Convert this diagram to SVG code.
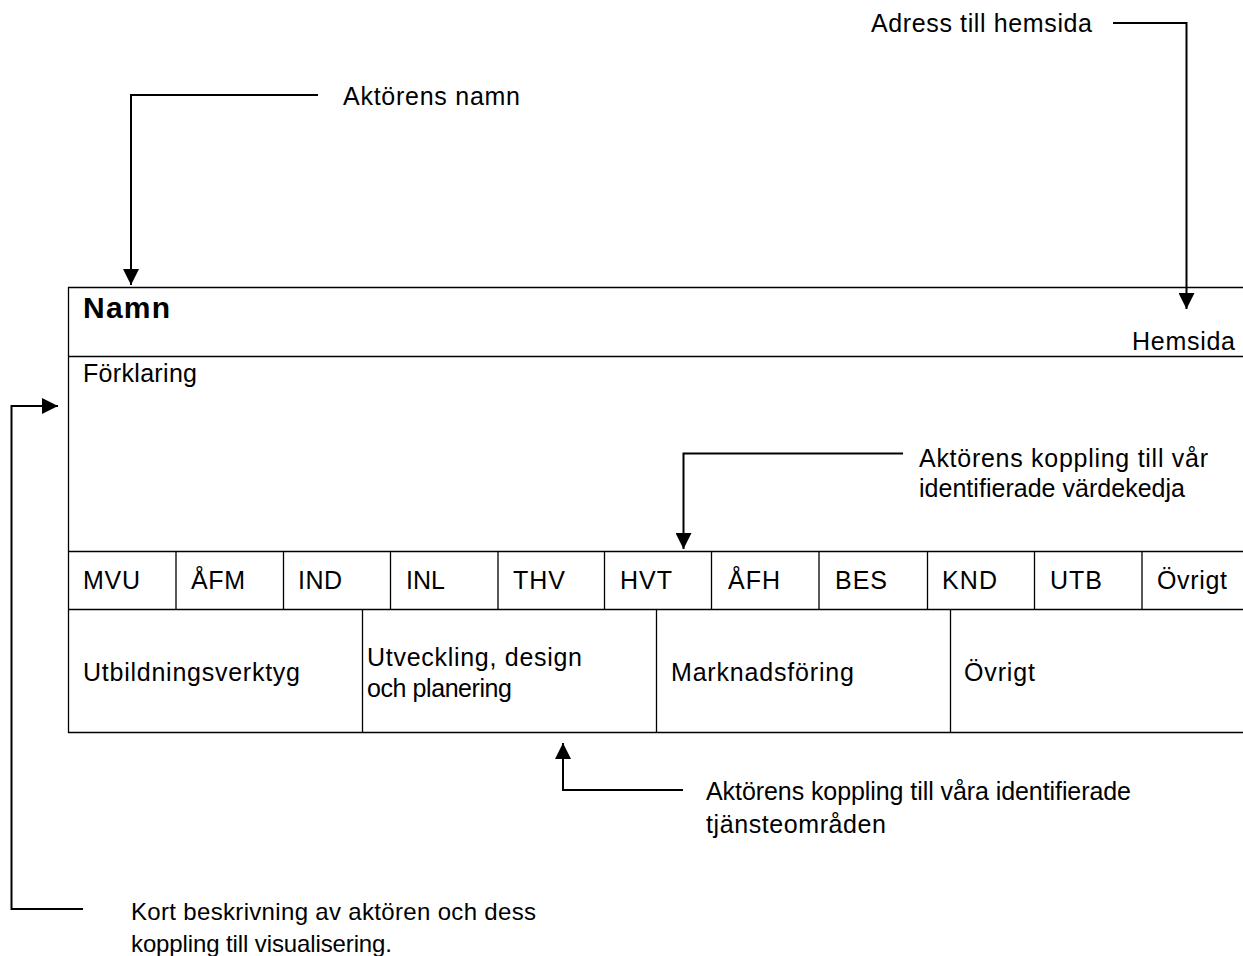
<svg xmlns="http://www.w3.org/2000/svg" width="1243" height="956" viewBox="0 0 1243 956">
  <style>
    text { font-family: "Liberation Sans", Arial, sans-serif; font-size: 25px; fill: #000; }
    .title { font-size: 30px; font-weight: bold; }
    .small { font-size: 24px; }
    .grid { stroke: #000; stroke-width: 1.3; fill: none; }
    .conn { stroke: #000; stroke-width: 2; fill: none; }
  </style>
  <defs>
    <marker id="arrow" viewBox="0 0 10 10" refX="10" refY="5" markerWidth="8" markerHeight="8" markerUnits="strokeWidth" orient="auto">
      <path d="M0,0 L10,5 L0,10 Z" fill="#000"/>
    </marker>
  </defs>

  <!-- Record card -->
  <g id="card">
    <path class="grid" d="M68,287.5 H1243 M68,356.5 H1243 M68,551.5 H1243 M68,609.5 H1243 M68,732.5 H1243 M68.5,287 V733"/>
    <text class="title" x="83" y="318" textLength="87" lengthAdjust="spacing">Namn</text>
    <text x="1235" y="350" text-anchor="end" textLength="103" lengthAdjust="spacing">Hemsida</text>
    <text x="83" y="382" textLength="114" lengthAdjust="spacing">Förklaring</text>
  </g>

  <!-- Value-chain code row -->
  <g id="codes">
    <path class="grid" d="M176,551 V609 M283.5,551 V609 M390.5,551 V609 M498,551 V609 M604.5,551 V609 M711.5,551 V609 M819,551 V609 M927.5,551 V609 M1034.5,551 V609 M1142,551 V609"/>
    <text x="83" y="589" textLength="57" lengthAdjust="spacing">MVU</text>
    <text x="191" y="589" textLength="54" lengthAdjust="spacing">ÅFM</text>
    <text x="298" y="589" textLength="44" lengthAdjust="spacing">IND</text>
    <text x="406" y="589" textLength="39" lengthAdjust="spacing">INL</text>
    <text x="513" y="589" textLength="52" lengthAdjust="spacing">THV</text>
    <text x="620" y="589" textLength="52" lengthAdjust="spacing">HVT</text>
    <text x="728" y="589" textLength="52" lengthAdjust="spacing">ÅFH</text>
    <text x="835" y="589" textLength="52" lengthAdjust="spacing">BES</text>
    <text x="942" y="589" textLength="55" lengthAdjust="spacing">KND</text>
    <text x="1050" y="589" textLength="52" lengthAdjust="spacing">UTB</text>
    <text x="1157" y="589" textLength="70" lengthAdjust="spacing">Övrigt</text>
  </g>

  <!-- Service-area row -->
  <g id="areas">
    <path class="grid" d="M362.5,609 V733 M656.5,609 V733 M950.5,609 V733"/>
    <text x="83" y="681" textLength="217" lengthAdjust="spacing">Utbildningsverktyg</text>
    <text x="367" y="666" textLength="215" lengthAdjust="spacing">Utveckling, design</text>
    <text x="367" y="697" textLength="145" lengthAdjust="spacing">och planering</text>
    <text x="671" y="681" textLength="183" lengthAdjust="spacing">Marknadsföring</text>
    <text x="964" y="681" textLength="71" lengthAdjust="spacing">Övrigt</text>
  </g>

  <!-- Annotation labels -->
  <g id="label-namn"><text x="343" y="105" textLength="177" lengthAdjust="spacing">Aktörens namn</text></g>
  <g id="label-hemsida"><text x="871" y="32" textLength="221" lengthAdjust="spacing">Adress till hemsida</text></g>
  <g id="label-vardekedja">
    <text x="919" y="467" textLength="289" lengthAdjust="spacing">Aktörens koppling till vår</text>
    <text x="919" y="497" textLength="266" lengthAdjust="spacing">identifierade värdekedja</text>
  </g>
  <g id="label-tjanst">
    <text x="706" y="800" textLength="425" lengthAdjust="spacing">Aktörens koppling till våra identifierade</text>
    <text x="706" y="833" textLength="180" lengthAdjust="spacing">tjänsteområden</text>
  </g>
  <g id="label-beskrivning">
    <text class="small" x="131" y="920" textLength="405" lengthAdjust="spacing">Kort beskrivning av aktören och dess</text>
    <text class="small" x="131" y="952" textLength="261" lengthAdjust="spacing">koppling till visualisering.</text>
  </g>

  <!-- Connectors -->
  <g id="connectors">
    <path class="conn" d="M318,95 H131 V285" marker-end="url(#arrow)"/>
    <path class="conn" d="M1113,23 H1186.5 V309" marker-end="url(#arrow)"/>
    <path class="conn" d="M83,909 H11.5 V406 H58" marker-end="url(#arrow)"/>
    <path class="conn" d="M903,453.5 H683.5 V549" marker-end="url(#arrow)"/>
    <path class="conn" d="M683,790 H563 V743" marker-end="url(#arrow)"/>
  </g>
</svg>
